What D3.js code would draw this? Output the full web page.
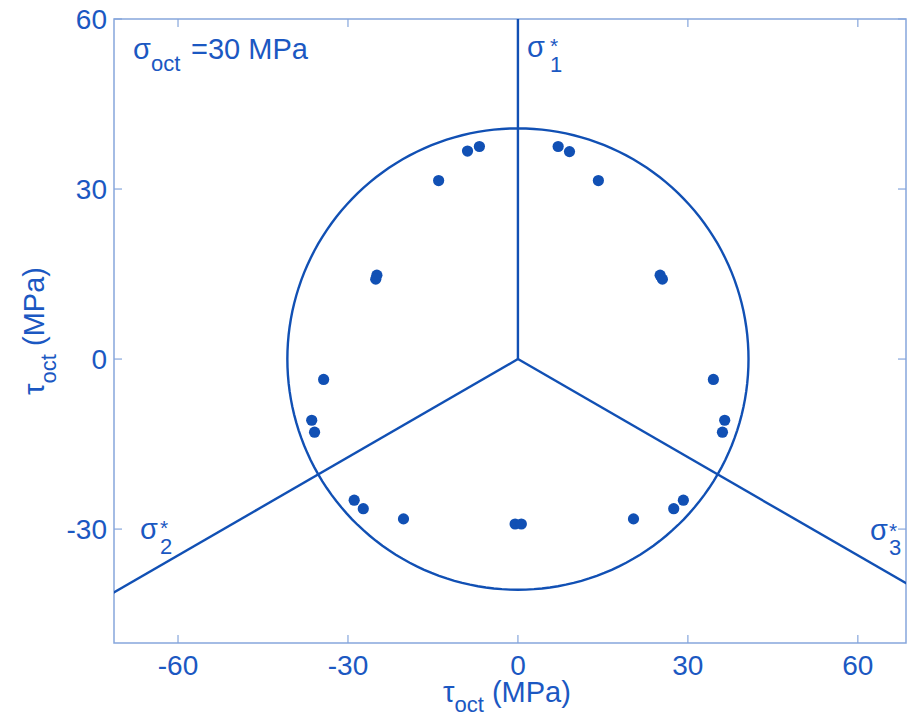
<!DOCTYPE html>
<html>
<head>
<meta charset="utf-8">
<script src="https://cdn.jsdelivr.net/npm/d3@7"></script>
<style>
  body { margin: 0; background: #fff; }
  text { font-family: "Liberation Sans", Arial, sans-serif; fill: #1b58c2; }
</style>
</head>
<body>
<svg id="chart" width="912" height="719"></svg>
<script>
// deviatoric plane points (MPa)
var xVals = [-8.9, -6.8, -14.0, 7.1, 9.1, 14.2, -24.9, -25.1, 25.1, 25.5,
             -34.3, -36.4, -35.9, 34.5, 36.5, 36.1,
             -28.9, -27.3, -20.2, -0.5, 0.6, 20.4, 27.5, 29.2];
var yVals = [36.7, 37.5, 31.5, 37.5, 36.6, 31.5, 14.8, 14.1, 14.8, 14.1,
             -3.6, -10.8, -12.9, -3.6, -10.8, -12.9,
             -24.9, -26.4, -28.2, -29.1, -29.1, -28.2, -26.4, -24.9];
var xTicks = [-60, -30, 0, 30, 60];
var yTicks = [-30, 0, 30, 60];
var xDomain = [-71.3, 68.5];
var yDomain = [-50.1, 60];
var circleR = 40.7;
var rayAngles = [90, 210, 330];

var points = xVals.map(function(d, i) { return {x: d, y: yVals[i]}; });

var margin = {top: 19, right: 6, bottom: 76, left: 114},
    W = 912, H = 719,
    w = W - margin.left - margin.right,
    h = H - margin.top - margin.bottom;

var lineCol = "#1150b4", axisCol = "#86a6dc";

var svg = d3.select("#chart");
svg.append("rect").attr("width", W).attr("height", H).attr("fill", "#fff");

var g = svg.append("g").attr("transform", "translate(" + margin.left + "," + margin.top + ")");

var x = d3.scaleLinear().domain(xDomain).range([0, w]);
var y = d3.scaleLinear().domain(yDomain).range([h, 0]);

g.append("defs").append("clipPath").attr("id", "clip")
  .append("rect").attr("width", w).attr("height", h);

// axes box with inward ticks
g.append("rect").attr("width", w).attr("height", h)
  .attr("fill", "none").attr("stroke", axisCol).attr("stroke-width", 1.5);

var tl = 8;
xTicks.forEach(function(t) {
  g.append("line").attr("x1", x(t)).attr("x2", x(t)).attr("y1", h).attr("y2", h - tl)
    .attr("stroke", axisCol).attr("stroke-width", 1.2);
  g.append("line").attr("x1", x(t)).attr("x2", x(t)).attr("y1", 0).attr("y2", tl)
    .attr("stroke", axisCol).attr("stroke-width", 1.2);
  g.append("text").attr("x", x(t)).attr("y", h + 32).attr("text-anchor", "middle")
    .style("font-size", "28px").text(t);
});
yTicks.forEach(function(t) {
  g.append("line").attr("x1", 0).attr("x2", tl).attr("y1", y(t)).attr("y2", y(t))
    .attr("stroke", axisCol).attr("stroke-width", 1.2);
  g.append("line").attr("x1", w).attr("x2", w - tl).attr("y1", y(t)).attr("y2", y(t))
    .attr("stroke", axisCol).attr("stroke-width", 1.2);
  g.append("text").attr("x", -7).attr("y", y(t) + 10).attr("text-anchor", "end")
    .style("font-size", "28px").text(t);
});

var body = g.append("g").attr("clip-path", "url(#clip)");

// principal stress axes
rayAngles.forEach(function(a) {
  var r = a * Math.PI / 180;
  body.append("line")
    .attr("x1", x(0)).attr("y1", y(0))
    .attr("x2", x(150 * Math.cos(r))).attr("y2", y(150 * Math.sin(r)))
    .attr("stroke", lineCol).attr("stroke-width", 2.4);
});

// yield circle
var circ = d3.range(0, 361, 2).map(function(a) {
  var r = a * Math.PI / 180;
  return [circleR * Math.cos(r), circleR * Math.sin(r)];
});
body.append("path")
  .attr("d", d3.line().x(d => x(d[0])).y(d => y(d[1]))(circ))
  .attr("fill", "none").attr("stroke", lineCol).attr("stroke-width", 2.4);

body.selectAll(".pt").data(points).enter().append("circle")
  .attr("class", "pt")
  .attr("cx", d => x(d.x)).attr("cy", d => y(d.y)).attr("r", 5.6)
  .attr("fill", lineCol);

// labels
var t1 = svg.append("text").attr("x", 133).attr("y", 59).style("font-size", "29px");
t1.append("tspan").text("σ");
t1.append("tspan").attr("dy", 12).style("font-size", "22px").text("oct");
t1.append("tspan").attr("x", 191).attr("y", 59).text("=30 MPa");

function starLabel(px, py, sub, sx, sy) {
  var t = svg.append("text").style("font-size", "29px");
  t.append("tspan").attr("x", px).attr("y", py).text("σ");
  t.append("tspan").attr("x", sx).attr("y", sy).style("font-size", "21px").text("*");
  t.append("tspan").attr("x", sx).attr("y", py + 15).style("font-size", "22px").text(sub);
}
starLabel(527, 57, "1", 550, 53);
starLabel(140, 539, "2", 160, 535);
starLabel(870, 540, "3", 889, 538);

var xl = svg.append("text").attr("x", 443).attr("y", 702).style("font-size", "29px");
xl.append("tspan").text("τ");
xl.append("tspan").attr("dy", 10).style("font-size", "22px").text("oct");
xl.append("tspan").attr("dy", -10).text(" (MPa)");

var yl = svg.append("text").attr("transform", "translate(44,331) rotate(-90)")
  .attr("text-anchor", "middle").style("font-size", "29px");
yl.append("tspan").text("τ");
yl.append("tspan").attr("dy", 12).style("font-size", "22px").text("oct");
yl.append("tspan").attr("dy", -12).text(" (MPa)");
</script>
</body>
</html>
